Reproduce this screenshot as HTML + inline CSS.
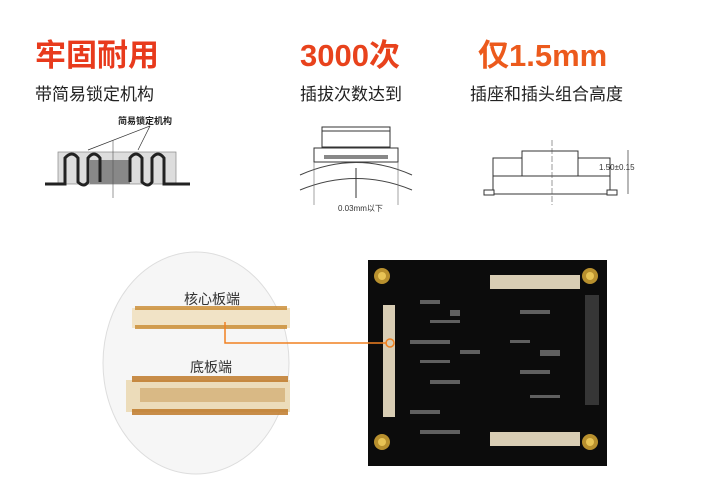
<!DOCTYPE html>
<html><head><meta charset="utf-8"><style>
body{margin:0;width:721px;height:491px;background:#fff;overflow:hidden;position:relative;font-family:"Liberation Sans","Noto Sans CJK SC",sans-serif}
.h{position:absolute;top:30px;font-size:31px;font-weight:bold;color:#e83a1c;white-space:nowrap}
.s{position:absolute;top:80px;font-size:17px;color:#222;white-space:nowrap}
.t{position:absolute;font-size:14px;color:#333}
</style></head><body>
<div class="h" style="left:35px">牢固耐用</div>
<div class="h" style="left:300px;color:#e8421c">3000次</div>
<div class="h" style="left:478px;color:#ec5a1c">仅1.5mm</div>
<div class="s" style="left:35px">带简易锁定机构</div>
<div class="s" style="left:300px">插拔次数达到</div>
<div class="s" style="left:470px">插座和插头组合高度</div>
<svg width="721" height="491" style="position:absolute;left:0;top:0">
<text x="118" y="124" font-size="9" font-weight="bold" fill="#222" font-family="Liberation Sans,Noto Sans CJK SC,sans-serif">简易锁定机构</text>
<line x1="150" y1="126" x2="88" y2="150" stroke="#333" stroke-width="0.7"/>
<line x1="150" y1="126" x2="138" y2="150" stroke="#333" stroke-width="0.7"/>
<rect x="58" y="152" width="118" height="32" fill="#ddd" stroke="#888" stroke-width="0.7"/>
<rect x="90" y="160" width="40" height="24" fill="#888"/>
<path d="M45 184 H65 V158 Q72 150 78 158 V182 Q84 188 88 182 V158 Q94 150 100 158 V182 M130 182 V158 Q136 150 142 158 V182 Q148 188 152 182 V158 Q158 150 164 158 V184 H190" fill="none" stroke="#222" stroke-width="3"/>
<line x1="113" y1="140" x2="113" y2="198" stroke="#555" stroke-width="0.6"/>
<rect x="322" y="127" width="68" height="20" fill="#fff" stroke="#333"/>
<rect x="322" y="127" width="68" height="4" fill="#fff" stroke="#333"/>
<rect x="314" y="148" width="84" height="14" fill="#fff" stroke="#333"/>
<rect x="324" y="155" width="64" height="4" fill="#888"/>
<path d="M300 175 Q356 150 412 175 M300 190 Q356 167 412 190" fill="none" stroke="#444"/>
<line x1="314" y1="162" x2="314" y2="205" stroke="#666" stroke-width="0.6"/>
<line x1="398" y1="162" x2="398" y2="205" stroke="#666" stroke-width="0.6"/>
<line x1="356" y1="168" x2="356" y2="198" stroke="#333"/>
<text x="338" y="211" font-size="8" fill="#333" font-family="Liberation Sans,Noto Sans CJK SC,sans-serif">0.03mm以下</text>
<rect x="493" y="158" width="117" height="18" fill="#fff" stroke="#333"/>
<rect x="522" y="151" width="56" height="25" fill="#fff" stroke="#333"/>
<rect x="493" y="176" width="117" height="18" fill="#fff" stroke="#333"/>
<rect x="484" y="190" width="10" height="5" fill="#fff" stroke="#333"/>
<rect x="607" y="190" width="10" height="5" fill="#fff" stroke="#333"/>
<line x1="552" y1="140" x2="552" y2="205" stroke="#555" stroke-width="0.6" stroke-dasharray="6 2"/>
<line x1="628" y1="150" x2="628" y2="194" stroke="#333" stroke-width="0.7"/>
<text x="599" y="170" font-size="8" fill="#333" font-family="Liberation Sans,sans-serif">1.50±0.15</text>
<ellipse cx="196" cy="363" rx="93" ry="111" fill="#f6f6f6" stroke="#ddd"/>
<rect x="132" y="308" width="158" height="20" fill="#f1e3c6"/>
<rect x="135" y="306" width="152" height="4" fill="#c9892f" opacity=".8"/>
<rect x="135" y="325" width="152" height="4" fill="#c9892f" opacity=".8"/>
<rect x="126" y="380" width="164" height="32" fill="#ecdcba"/>
<rect x="132" y="376" width="156" height="6" fill="#c07a2a" opacity=".85"/>
<rect x="132" y="409" width="156" height="6" fill="#c07a2a" opacity=".85"/>
<rect x="140" y="388" width="145" height="14" fill="#d9b985"/>
<rect x="368" y="260" width="239" height="206" fill="#0c0c0c"/>
<g fill="#b8902e"><circle cx="382" cy="276" r="8"/><circle cx="590" cy="276" r="8"/><circle cx="382" cy="442" r="8"/><circle cx="590" cy="442" r="8"/></g>
<g fill="#e8c455"><circle cx="382" cy="276" r="4"/><circle cx="590" cy="276" r="4"/><circle cx="382" cy="442" r="4"/><circle cx="590" cy="442" r="4"/></g>
<rect x="490" y="275" width="90" height="14" fill="#d8cdb4"/>
<rect x="490" y="432" width="90" height="14" fill="#d8cdb4"/>
<rect x="383" y="305" width="12" height="112" fill="#d8cdb4"/>
<g fill="#999" opacity=".6">
<rect x="420" y="300" width="20" height="4"/><rect x="450" y="310" width="10" height="6"/><rect x="430" y="320" width="30" height="3"/><rect x="410" y="340" width="40" height="4"/><rect x="460" y="350" width="20" height="4"/><rect x="420" y="360" width="30" height="3"/><rect x="430" y="380" width="30" height="4"/><rect x="520" y="310" width="30" height="4"/><rect x="510" y="340" width="20" height="3"/><rect x="540" y="350" width="20" height="6"/><rect x="520" y="370" width="30" height="4"/><rect x="530" y="395" width="30" height="3"/><rect x="410" y="410" width="30" height="4"/><rect x="420" y="430" width="40" height="4"/><rect x="585" y="295" width="14" height="110" opacity=".5"/></g>
<polyline points="225,322 225,343 387,343" fill="none" stroke="#f08020" stroke-width="1.5"/>
<circle cx="390" cy="343" r="4" fill="none" stroke="#f08020" stroke-width="1.5"/>
</svg>
<div class="t" style="left:184px;top:289px">核心板端</div>
<div class="t" style="left:190px;top:357px">底板端</div>
</body></html>
